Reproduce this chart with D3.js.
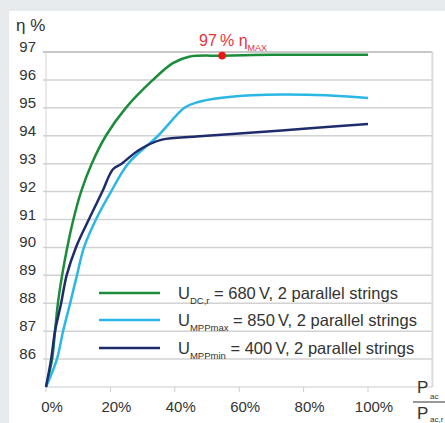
<!DOCTYPE html>
<html>
<head>
<meta charset="utf-8">
<script src="https://cdn.jsdelivr.net/npm/d3@7"></script>
<style>
body { margin: 0; background: #e8ebee; }
text { font-family: "Liberation Sans", Arial, sans-serif; fill: #333; }
</style>
</head>
<body>
<script>
// load in % of rated power, efficiency in %
var loadGreen = [0, 1.9, 2.8, 3.7, 5.0, 6.6, 8.5, 10.9, 14.2, 18.6, 24.8, 33.2, 39.4, 44.4, 54.7, 70, 85, 100];
var effGreen = [85, 86, 87, 88, 89, 90, 91, 92, 93, 94, 95, 96, 96.6, 96.83, 96.87, 96.9, 96.9, 96.9];
var loadCyan = [0, 3.4, 5.3, 7.5, 9.6, 11.8, 15.5, 20.2, 25.5, 34.8, 43, 47, 54, 64, 73.6, 87, 100];
var effCyan = [85, 86, 87, 88, 89, 90, 91, 92, 93, 94, 95, 95.2, 95.35, 95.45, 95.48, 95.45, 95.35];
var loadNavy = [0, 1.6, 2.8, 4.7, 6.4, 9.3, 13.3, 17.5, 20.8, 23.5, 29, 36, 46.6, 60, 80, 100];
var effNavy = [85, 86, 87, 88, 89, 90, 91, 92, 92.8, 93, 93.5, 93.86, 93.97, 94.08, 94.25, 94.42];
var xTicks = [0, 20, 40, 60, 80, 100];
var yTicks = [86, 87, 88, 89, 90, 91, 92, 93, 94, 95, 96, 97];
var maxPoint = [54.7, 96.87];
var legendMain = ["U", "U", "U"];
var legendSub = ["DC,r", "MPPmax", "MPPmin"];
var legendRest = [" = 680\u2009V, 2 parallel strings", " = 850\u2009V, 2 parallel strings", " = 400\u2009V, 2 parallel strings"];
var colors = ["#1a8c3a", "#2bb7e6", "#1f2c6c"];

var svg = d3.select("body").append("svg").attr("width", 445).attr("height", 423);
svg.append("rect").attr("x", 9).attr("y", 11).attr("width", 436).attr("height", 412).attr("fill", "#ffffff");

var x = d3.scaleLinear().domain([0, 120]).range([46, 432.4]);
var y = d3.scaleLinear().domain([85, 97]).range([387, 52]);

// grid
svg.append("g").selectAll("line").data(yTicks).join("line")
	.attr("x1", 43).attr("x2", x(120)).attr("y1", function (d) { return y(d); }).attr("y2", function (d) { return y(d); })
	.attr("stroke", function (d) { return d == 97 ? "#b4b4b4" : "#d2d2d2"; }).attr("stroke-width", 1.5);
svg.append("line").attr("x1", x(120)).attr("x2", x(120)).attr("y1", y(97)).attr("y2", y(85)).attr("stroke", "#dcdcdc").attr("stroke-width", 2);
svg.append("line").attr("x1", x(0)).attr("x2", x(0)).attr("y1", y(97)).attr("y2", y(85)).attr("stroke", "#d2d2d2").attr("stroke-width", 1);
svg.append("line").attr("x1", x(0)).attr("x2", x(120)).attr("y1", y(85)).attr("y2", y(85)).attr("stroke", "#cccccc").attr("stroke-width", 1.2);
svg.append("g").selectAll("line").data(xTicks).join("line")
	.attr("x1", function (d) { return x(d); }).attr("x2", function (d) { return x(d); }).attr("y1", y(85)).attr("y2", y(85) + 5)
	.attr("stroke", "#cccccc").attr("stroke-width", 1);

// tick labels
svg.append("g").selectAll("text").data(yTicks).join("text")
	.attr("x", 36).attr("y", function (d) { return y(d); }).attr("text-anchor", "end").attr("font-size", 15).text(function (d) { return d; });
svg.append("g").selectAll("text").data(xTicks).join("text")
	.attr("x", function (d) { return x(d) + 6; }).attr("y", 412).attr("text-anchor", "middle").attr("font-size", 15).text(function (d) { return d + "%"; });
svg.append("text").attr("x", 16).attr("y", 31).attr("font-size", 17).text("\u03b7 %");

// x axis fraction
svg.append("text").attr("x", 417).attr("y", 393).attr("font-size", 17).text("P");
svg.append("text").attr("x", 430).attr("y", 399).attr("font-size", 8).text("ac");
svg.append("line").attr("x1", 413).attr("x2", 445).attr("y1", 402).attr("y2", 402).attr("stroke", "#333").attr("stroke-width", 1);
svg.append("text").attr("x", 417).attr("y", 419).attr("font-size", 17).text("P");
svg.append("text").attr("x", 430).attr("y", 422).attr("font-size", 8).text("ac,r");

// curves
var line = d3.line().x(function (d) { return x(d[0]); }).y(function (d) { return y(d[1]); }).curve(d3.curveCatmullRom.alpha(0.5));
var series = [d3.zip(loadGreen, effGreen), d3.zip(loadCyan, effCyan), d3.zip(loadNavy, effNavy)];
svg.append("g").selectAll("path").data(series).join("path")
	.attr("d", line).attr("fill", "none").attr("stroke", function (d, i) { return colors[i]; }).attr("stroke-width", 2.5);

// max marker
svg.append("circle").attr("cx", x(maxPoint[0])).attr("cy", y(maxPoint[1])).attr("r", 3.8).attr("fill", "#f01414");
var maxLabel = svg.append("text").attr("x", 199).attr("y", 46).attr("font-size", 16).style("fill", "#e8323c");
maxLabel.append("tspan").text("97\u2009% \u03b7");
maxLabel.append("tspan").attr("dy", 5).attr("font-size", 9).text("MAX");

// legend
var leg = svg.append("g").selectAll("g").data(legendMain).join("g")
	.attr("transform", function (d, i) { return "translate(0," + [293, 320, 348][i] + ")"; });
leg.append("line").attr("x1", 99).attr("x2", 160).attr("stroke", function (d, i) { return colors[i]; }).attr("stroke-width", 2.5);
var lt = leg.append("text").attr("x", 178).attr("y", 5.5).attr("font-size", 16.5);
lt.append("tspan").text(function (d) { return d; });
lt.append("tspan").attr("dy", 5).attr("font-size", 9.5).text(function (d, i) { return legendSub[i]; });
lt.append("tspan").attr("dy", -5).text(function (d, i) { return legendRest[i]; });
</script>
</body>
</html>
